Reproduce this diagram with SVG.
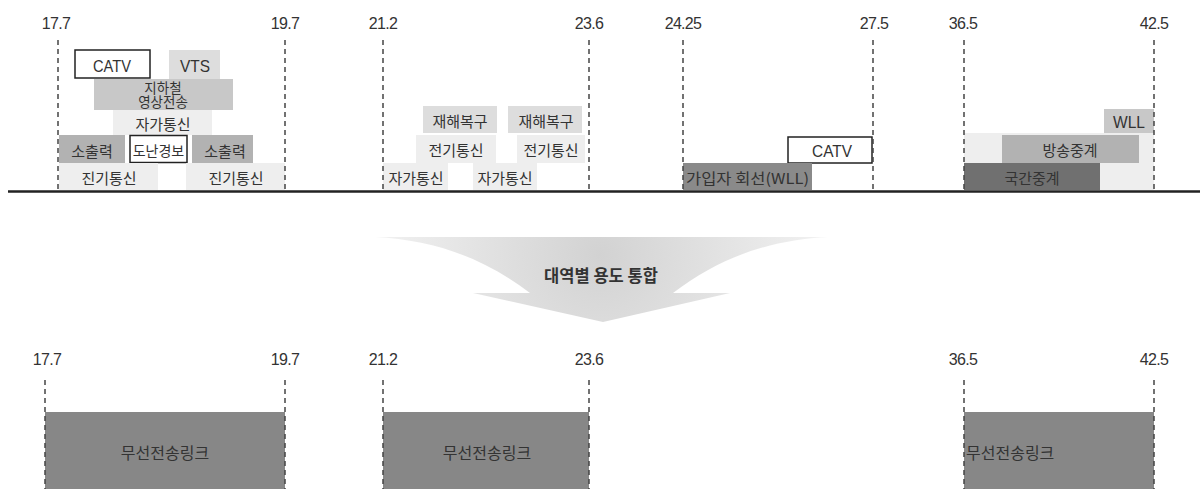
<svg xmlns="http://www.w3.org/2000/svg" width="1200" height="489" viewBox="0 0 1200 489">
<defs>
<style>
.num{font-family:"Liberation Sans",Arial,sans-serif;font-size:16px;fill:#333;text-anchor:middle;letter-spacing:-0.7px}
.ko{font-family:"Noto Sans CJK KR","Noto Sans",sans-serif;font-size:15px;fill:#333;text-anchor:middle}
.ko13{font-size:13.5px}
.ko14{font-size:14px}
.ko16{font-size:16px}
.st{text-anchor:start}
.la{font-family:"Liberation Sans",Arial,sans-serif;font-size:17px;fill:#333;text-anchor:middle}
.dash{stroke:#444;stroke-width:1.5;stroke-dasharray:5 4;fill:none}
.wb{fill:#fff;stroke:#222;stroke-width:1.5}
.c1{fill:#eeeeee}
.c2{fill:#dddddd}
.c3{fill:#c8c8c8}
.c4{fill:#b2b2b2}
.c5{fill:#8a8a8a}
.c6{fill:#707070}
.band{fill:#878787}
.title{font-family:"Noto Sans CJK KR","Noto Sans",sans-serif;font-size:16.5px;font-weight:bold;fill:#333;text-anchor:middle}
</style>
<radialGradient id="ag" cx="600" cy="255" r="260" gradientUnits="userSpaceOnUse">
<stop offset="0" stop-color="#d2d2d2"/>
<stop offset="1" stop-color="#f6f6f6"/>
</radialGradient>
</defs>
<rect width="1200" height="489" fill="#fff"/>

<g id="freq-labels-top">
<text class="num" x="56" y="29">17.7</text>
<text class="num" x="285" y="29">19.7</text>
<text class="num" x="383" y="29">21.2</text>
<text class="num" x="589" y="29">23.6</text>
<text class="num" x="683" y="29">24.25</text>
<text class="num" x="874" y="29">27.5</text>
<text class="num" x="963" y="29">36.5</text>
<text class="num" x="1154" y="29">42.5</text>
</g>

<g id="band-17">
<g id="n-catv1"><rect class="wb" x="75" y="50" width="75" height="28"/><text class="la" x="112" y="72" textLength="38" lengthAdjust="spacingAndGlyphs">CATV</text></g>
<g id="n-vts"><rect class="c2" x="169" y="50" width="51" height="29"/><text class="la" x="195" y="72" textLength="30" lengthAdjust="spacingAndGlyphs">VTS</text></g>
<g id="n-subway"><rect class="c3" x="94" y="79" width="139" height="31"/><text class="ko ko13" x="163" y="92.5">지하철<tspan x="163" y="106.5">영상전송</tspan></text></g>
<g id="n-private1"><rect class="c1" x="113" y="110" width="99" height="25"/><text class="ko" x="163" y="130">자가통신</text></g>
<g id="n-low1"><rect class="c4" x="59" y="135" width="66" height="28"/><text class="ko" x="92" y="157">소출력</text></g>
<g id="n-alarm"><rect class="wb" x="130" y="135.5" width="57" height="27"/><text class="ko ko14" x="158.5" y="156">도난경보</text></g>
<g id="n-low2"><rect class="c4" x="192" y="135" width="61" height="28"/><text class="ko" x="225" y="157">소출력</text></g>
<g id="n-tel1"><rect class="c1" x="59" y="163" width="99" height="27"/><text class="ko" x="109" y="184">진기통신</text></g>
<g id="n-tel2"><rect class="c1" x="186" y="163" width="99" height="27"/><text class="ko" x="236" y="184">진기통신</text></g>
</g>

<g id="band-21">
<g id="n-disaster1"><rect class="c2" x="423" y="106" width="74" height="27"/><text class="ko" x="460" y="127">재해복구</text></g>
<g id="n-disaster2"><rect class="c2" x="508" y="106" width="74" height="27"/><text class="ko" x="546" y="127">재해복구</text></g>
<g id="n-elec1"><rect class="c1" x="416" y="135" width="80" height="28"/><text class="ko" x="456" y="156">전기통신</text></g>
<g id="n-elec2"><rect class="c1" x="517" y="135" width="68" height="28"/><text class="ko" x="551" y="156">전기통신</text></g>
<g id="n-private2"><rect class="c1" x="383" y="163" width="65" height="27"/><text class="ko" x="416" y="184">자가통신</text></g>
<g id="n-private3"><rect class="c1" x="473" y="163" width="64" height="27"/><text class="ko" x="505" y="184">자가통신</text></g>
</g>

<g id="band-24">
<g id="n-catv2"><rect class="wb" x="788" y="137" width="84" height="26"/><text class="la" x="832" y="157" textLength="40" lengthAdjust="spacingAndGlyphs">CATV</text></g>
<g id="n-subscriber"><rect class="c5" x="683" y="163" width="129" height="27"/><text class="ko st" x="686" y="184" textLength="123" lengthAdjust="spacingAndGlyphs">가입자 회선(WLL)</text></g>
</g>

<g id="band-36">
<g id="n-bg36"><rect class="c1" x="964" y="133" width="190" height="57"/></g>
<g id="n-wll"><rect class="c3" x="1104" y="109" width="50" height="24"/><text class="la" x="1129" y="128" textLength="32" lengthAdjust="spacingAndGlyphs">WLL</text></g>
<g id="n-broadcast"><rect class="c4" x="1002" y="135" width="137" height="28"/><text class="ko" x="1070" y="156">방송중계</text></g>
<g id="n-interoffice"><rect class="c6" x="964" y="163" width="136" height="27"/><text class="ko" x="1032" y="184">국간중계</text></g>
</g>

<g id="axes-top">
<line class="dash" x1="58" y1="40" x2="58" y2="190"/>
<line class="dash" x1="285" y1="40" x2="285" y2="190"/>
<line class="dash" x1="383" y1="40" x2="383" y2="190"/>
<line class="dash" x1="589" y1="40" x2="589" y2="190"/>
<line class="dash" x1="683" y1="40" x2="683" y2="190"/>
<line class="dash" x1="873" y1="40" x2="873" y2="190"/>
<line class="dash" x1="964" y1="40" x2="964" y2="190"/>
<line class="dash" x1="1154" y1="40" x2="1154" y2="190"/>
<line x1="8" y1="191.5" x2="1200" y2="191.5" stroke="#222" stroke-width="2.5"/>
</g>

<g id="connectors">
<path d="M375,237 L828,237 C773,240 723,255 673,293 L730,293 L603,322 L473,293 L530,293 C480,255 430,240 375,237 Z" fill="url(#ag)"/>
</g>
<g id="n-merge"><text class="title" x="601" y="282">대역별 용도 통합</text></g>

<g id="freq-labels-bottom">
<text class="num" x="47" y="365">17.7</text>
<text class="num" x="285" y="365">19.7</text>
<text class="num" x="383" y="365">21.2</text>
<text class="num" x="589" y="365">23.6</text>
<text class="num" x="963" y="365">36.5</text>
<text class="num" x="1154" y="365">42.5</text>
</g>

<g id="n-link1"><rect class="band" x="45" y="412" width="240" height="77"/><text class="ko ko16" x="165" y="459">무선전송링크</text></g>
<g id="n-link2"><rect class="band" x="383" y="412" width="206" height="77"/><text class="ko ko16" x="487" y="459">무선전송링크</text></g>
<g id="n-link3"><rect class="band" x="964" y="412" width="190" height="77"/><text class="ko ko16 st" x="966" y="459">무선전송링크</text></g>

<g id="axes-bottom">
<line class="dash" x1="45" y1="380" x2="45" y2="489"/>
<line class="dash" x1="285" y1="380" x2="285" y2="489"/>
<line class="dash" x1="383" y1="380" x2="383" y2="489"/>
<line class="dash" x1="589" y1="380" x2="589" y2="489"/>
<line class="dash" x1="964" y1="380" x2="964" y2="489"/>
<line class="dash" x1="1154" y1="380" x2="1154" y2="489"/>
</g>
</svg>
